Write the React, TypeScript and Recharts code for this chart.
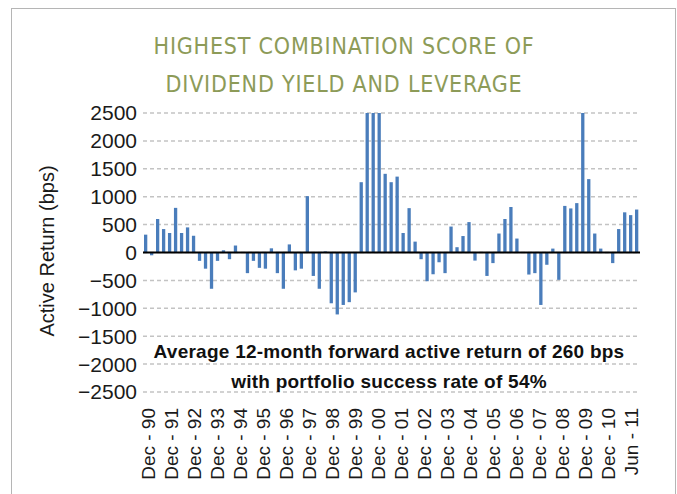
import React from "react";
import {
  BarChart,
  Bar,
  XAxis,
  YAxis,
  CartesianGrid,
  ReferenceLine,
} from "recharts";

const titleLines = ["HIGHEST COMBINATION SCORE OF", "DIVIDEND YIELD AND LEVERAGE"];
const noteLines = [
  "Average 12-month forward active return of 260 bps",
  "with portfolio success rate of 54%",
];
const yLabel = "Active Return (bps)";

// quarterly active return (bps), Dec-90 .. Jun-11
// the four big spikes run off the top of the axis, their tops are guesses
const activeReturn = [
  320, -50, 600, 420, 350, 800, 350, 450, 300, -150,
  -290, -650, -150, 40, -120, 125, -5, -370, -150, -275,
  -290, 75, -370, -650, 145, -320, -290, 1010, -420, -650,
  20, -910, -1110, -940, -890, -715, 1260, 3400, 4200, 3600,
  1410, 1260, 1360, 350, 795, 195, -120, -515, -390, -175,
  -370, 465, 95, 295, 545, -145, 10, -420, -190, 340,
  600, 815, 250, -5, -395, -370, -940, -220, 70, -490,
  835, 790, 885, 3100, 1315, 340, 70, -10, -190, 420,
  720, 670, 770,
];

const tickLabels = [
  "Dec - 90", "Dec - 91", "Dec - 92", "Dec - 93", "Dec - 94", "Dec - 95",
  "Dec - 96", "Dec - 97", "Dec - 98", "Dec - 99", "Dec - 00", "Dec - 01",
  "Dec - 02", "Dec - 03", "Dec - 04", "Dec - 05", "Dec - 06", "Dec - 07",
  "Dec - 08", "Dec - 09", "Dec - 10", "Jun - 11",
];

const yTicks = [-2500, -2000, -1500, -1000, -500, 0, 500, 1000, 1500, 2000, 2500];

const data = activeReturn.map((v, q) => ({ q, v }));

// the source spreads its labels evenly, a bit tighter than every 4 quarters
const labelTicks = tickLabels.map((_, j) => 0.4 + j * 3.84);

const SANS = "'Liberation Sans', Arial, sans-serif";
const NARROW = "'Liberation Sans Narrow', 'DejaVu Sans Condensed', sans-serif";

const fmtY = (v: number) => (v < 0 ? "\u2212" + Math.abs(v) : String(v));

function XTick(props: any) {
  const { x, y, index } = props;
  return (
    <text
      x={x}
      y={y}
      dy="0.35em"
      transform={`rotate(-90 ${x} ${y})`}
      textAnchor="end"
      fontSize={19}
      fontFamily={SANS}
      fill="#1a1a1a"
    >
      {tickLabels[index]}
    </text>
  );
}

export default function App() {
  return (
    <div
      style={{
        position: "fixed",
        left: 0,
        top: 0,
        width: 677,
        height: 494,
        background: "#fff",
        overflow: "hidden",
      }}
    >
      <div
        style={{
          position: "absolute",
          left: 11,
          top: 8,
          width: 663,
          height: 520,
          border: "1.5px solid #b5b5b5",
        }}
      />

      <BarChart
        width={677}
        height={494}
        data={data}
        margin={{ top: 113, right: 37, left: 0, bottom: 0 }}
      >
        <CartesianGrid
          vertical={false}
          stroke="#c3c3c3"
          strokeWidth={1.5}
          strokeDasharray="4 3"
        />
        <XAxis
          type="number"
          dataKey="q"
          domain={[-0.5, 82.5]}
          ticks={labelTicks}
          interval={0}
          allowDataOverflow
          axisLine={false}
          tickLine={false}
          tickSize={6}
          tickMargin={10}
          height={102}
          tick={<XTick />}
        />
        <YAxis
          domain={[-2500, 2500]}
          ticks={yTicks}
          interval={0}
          allowDataOverflow
          axisLine={false}
          tickLine={false}
          tickSize={4}
          tickMargin={2}
          width={143}
          tickFormatter={fmtY}
          tick={{ fontSize: 21, fill: "#1a1a1a", fontFamily: SANS }}
        />
        <Bar dataKey="v" fill="#4a7dbb" barSize={3.3} isAnimationActive={false} />
        <ReferenceLine y={0} stroke="#000" strokeWidth={2} />
      </BarChart>

      <svg
        width={677}
        height={494}
        style={{ position: "absolute", left: 0, top: 0, pointerEvents: "none" }}
      >
        {titleLines.map((t, i) => (
          <text
            key={t}
            x={344}
            y={54.3 + i * 37.4}
            textAnchor="middle"
            fontSize={23}
            letterSpacing={0.8}
            fontFamily={NARROW}
            fill="#8d9b58"
          >
            {t}
          </text>
        ))}
        <text
          x={47}
          y={251}
          dy="0.35em"
          transform="rotate(-90 47 251)"
          textAnchor="middle"
          fontSize={20}
          fontFamily={SANS}
          fill="#1a1a1a"
        >
          {yLabel}
        </text>
        {noteLines.map((t, i) => (
          <text
            key={t}
            x={389}
            y={358 + i * 30}
            textAnchor="middle"
            fontSize={19}
            fontWeight="bold"
            letterSpacing={0.25}
            fontFamily={SANS}
            fill="#111"
          >
            {t}
          </text>
        ))}
      </svg>
    </div>
  );
}
